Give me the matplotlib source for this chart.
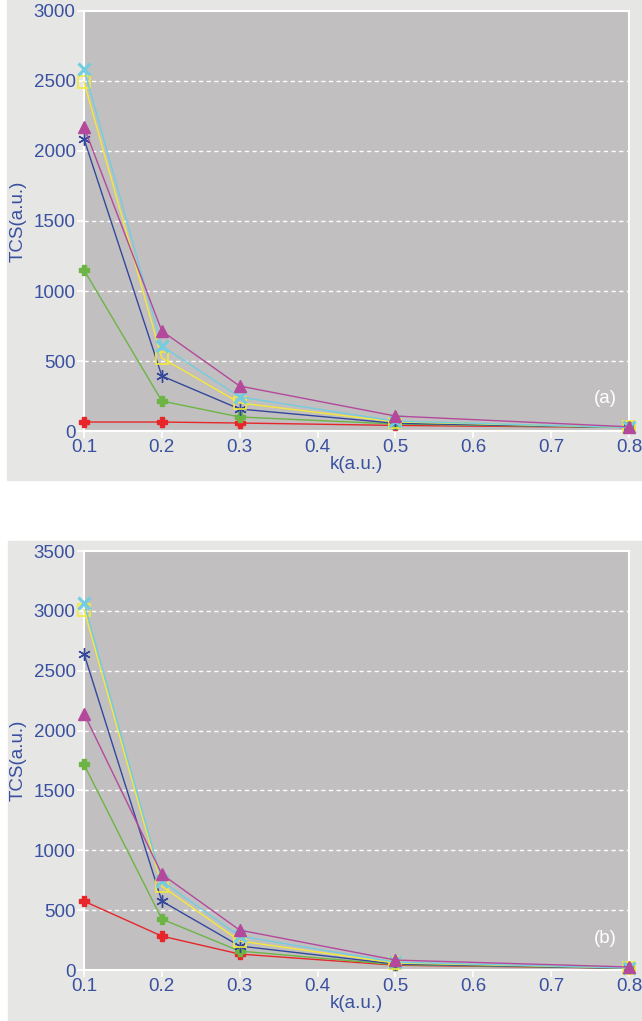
import matplotlib
matplotlib.use('Agg')
import matplotlib.pyplot as plt
from matplotlib.patches import Rectangle

plt.rcParams['font.family'] = ['Liberation Sans', 'DejaVu Sans']

k = [0.1, 0.2, 0.3, 0.5, 0.8]

# panel (a)
a_cyan = [2586, 607, 243, 70, 25]
a_yellow = [2493, 521, 200, 65, 25]
a_magenta = [2171, 714, 321, 107, 30]
a_blue = [2086, 393, 157, 55, 25]
a_green = [1150, 214, 100, 50, 25]
a_red = [64, 64, 57, 40, 25]

# panel (b)
b_cyan = [3069, 742, 283, 65, 17]
b_yellow = [3008, 700, 242, 58, 17]
b_magenta = [2142, 800, 333, 83, 25]
b_blue = [2642, 575, 200, 50, 15]
b_green = [1717, 425, 158, 45, 15]
b_red = [575, 283, 133, 40, 15]

TEXT = '#3a50a0'
PLOT_BG = '#c1bfc0'
OUT_BG = '#e6e6e5'
FS = 13.5

# name, colour, marker style, zorder
styles = [
    ('cyan', '#72cde0', dict(marker='x', markersize=9, markeredgewidth=2.2), 5),
    ('yellow', '#f4e93a', dict(marker='s', markersize=8, markerfacecolor='none', markeredgewidth=1.2), 4),
    ('magenta', '#b4499c', dict(marker='^', markersize=8), 6),
    ('blue', '#34489b', dict(marker=(6, 2, 0), markersize=9, markeredgewidth=1.0), 3.5),
    ('green', '#6cb545', dict(marker='P', markersize=7.5), 3.2),
    ('red', '#e8262a', dict(marker='P', markersize=7), 3),
]

fig = plt.figure(figsize=(6.42, 10.21), dpi=100)
fig.patch.set_facecolor('white')
fig.patches.append(Rectangle((7 / 642, 1 - 480 / 1021), 1, 480 / 1021,
                             transform=fig.transFigure, color=OUT_BG, zorder=-10))
fig.patches.append(Rectangle((8 / 642, 0), 1, 1 - 541 / 1021,
                             transform=fig.transFigure, color=OUT_BG, zorder=-10))


def draw_panel(rect, series, ymax, tag, tag_y):
    ax = fig.add_axes(rect)
    ax.set_facecolor(PLOT_BG)
    for (name, color, mk, z), vals in zip(styles, series):
        ax.plot(k, vals, color=color, linewidth=1.0, markeredgecolor=color,
                clip_on=False, zorder=z, **mk)
    ax.set_xlim(0.1, 0.8)
    ax.set_ylim(0, ymax)
    ax.set_xticks([0.1, 0.2, 0.3, 0.4, 0.5, 0.6, 0.7, 0.8])
    ax.set_xticklabels(['0.1', '0.2', '0.3', '0.4', '0.5', '0.6', '0.7', '0.8'])
    ax.set_yticks(range(0, ymax + 1, 500))
    for y in range(500, ymax, 500):
        ax.axhline(y, color='white', linestyle=(0, (3, 2.5)), linewidth=1.0, zorder=1)
    for s in ax.spines.values():
        s.set_color('white')
        s.set_linewidth(1.5)
    ax.tick_params(colors='white', labelcolor=TEXT, labelsize=FS, length=5, width=1.2,
                   pad=1)
    ax.set_xlabel('k(a.u.)', color=TEXT, fontsize=FS, labelpad=0)
    ax.set_ylabel('TCS(a.u.)', color=TEXT, fontsize=FS, labelpad=5)
    ax.text(0.77, tag_y, tag, color='white', fontsize=FS, ha='center', va='center')
    return ax


draw_panel([84 / 642, 1 - 431 / 1021, 545 / 642, 420 / 1021],
           [a_cyan, a_yellow, a_magenta, a_blue, a_green, a_red], 3000, '(a)', 235)
draw_panel([84 / 642, 1 - 970 / 1021, 545 / 642, 419 / 1021],
           [b_cyan, b_yellow, b_magenta, b_blue, b_green, b_red], 3500, '(b)', 265)

fig.savefig('out.png', dpi=100, facecolor=fig.get_facecolor())
